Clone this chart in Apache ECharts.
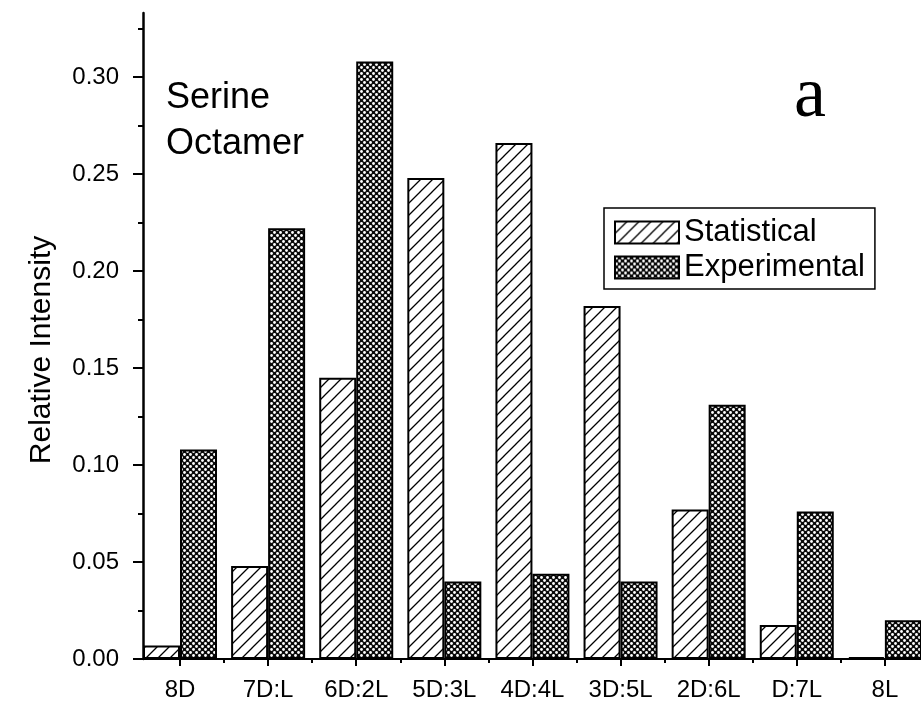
<!DOCTYPE html>
<html>
<head>
<meta charset="utf-8">
<script src="https://cdn.jsdelivr.net/npm/echarts@6/dist/echarts.min.js"></script>
<style>
html,body{margin:0;padding:0;background:#fff;}
#chart{width:921px;height:706px;}
</style>
</head>
<body>
<div id="chart"></div>
<script>
// ---- data ----
var categories = ['8D', '7D:L', '6D:2L', '5D:3L', '4D:4L', '3D:5L', '2D:6L', 'D:7L', '8L'];
var statistical = [0.007, 0.048, 0.145, 0.248, 0.266, 0.182, 0.077, 0.0175, 0.001];
var experimental = [0.108, 0.222, 0.308, 0.040, 0.044, 0.040, 0.131, 0.076, 0.020];
var yMajorTicks = [0, 0.05, 0.10, 0.15, 0.20, 0.25, 0.30];
var yMinorTicks = [0.025, 0.075, 0.125, 0.175, 0.225, 0.275, 0.325];
var xPositions = [1, 2, 3, 4, 5, 6, 7, 8, 9];
var xMinorTicks = [1.5, 2.5, 3.5, 4.5, 5.5, 6.5, 7.5, 8.5];

// ---- patterns ----
function hatchPattern() {
  var s = 12, c = document.createElement('canvas');
  c.width = s; c.height = s;
  var g = c.getContext('2d');
  g.fillStyle = '#fff'; g.fillRect(0, 0, s, s);
  g.strokeStyle = '#000'; g.lineWidth = 1.3;
  g.beginPath();
  g.moveTo(-2, s + 2); g.lineTo(s + 2, -2);
  g.moveTo(-2, 2); g.lineTo(2, -2);
  g.moveTo(s - 2, s + 2); g.lineTo(s + 2, s - 2);
  g.stroke();
  return c;
}
function dotPattern() {
  var s = 6, c = document.createElement('canvas');
  c.width = s; c.height = s;
  var g = c.getContext('2d');
  g.fillStyle = '#0a0a0a'; g.fillRect(0, 0, s, s);
  g.fillStyle = '#fff';
  g.beginPath(); g.arc(1.5, 1.5, 1.4, 0, Math.PI * 2); g.fill();
  g.beginPath(); g.arc(4.5, 4.5, 1.4, 0, Math.PI * 2); g.fill();
  return c;
}

function pairs(vals) {
  return vals.map(function (v, i) { return [xPositions[i], v]; });
}

var chart = echarts.init(document.getElementById('chart'), null, {renderer: 'canvas'});
var font = 'Liberation Sans, Arial, sans-serif';
var option = {
  animation: false,
  backgroundColor: '#fff',
  textStyle: {fontFamily: font},
  grid: {left: 143, right: 0, top: 13, bottom: 47, containLabel: false, outerBoundsMode: 'none'},
  legend: {
    orient: 'vertical',
    left: 604, top: 208,
    icon: 'rect',
    itemWidth: 64, itemHeight: 22, itemGap: 4,
    padding: [9, 10, 6, 10],
    borderColor: '#000', borderWidth: 1.5,
    textStyle: {fontSize: 31, color: '#000', fontFamily: font},
    data: ['Statistical', 'Experimental']
  },
  xAxis: [{
    type: 'value', min: 0.58, max: 9.41,
    axisLine: {show: true, onZero: false, lineStyle: {color: '#000', width: 2}},
    axisTick: {show: true, customValues: xPositions, length: 7, lineStyle: {color: '#000', width: 2}},
    axisLabel: {customValues: xPositions, margin: 19, fontSize: 24, color: '#000', fontFamily: font,
      formatter: function (v) { return categories[Math.round(v) - 1] || ''; }},
    splitLine: {show: false}
  }, {
    type: 'value', min: 0.58, max: 9.41, position: 'bottom',
    axisLine: {show: false},
    axisTick: {show: true, customValues: xMinorTicks, length: 4, lineStyle: {color: '#000', width: 2}},
    axisLabel: {show: false},
    splitLine: {show: false}
  }],
  yAxis: [{
    type: 'value', min: 0, max: 0.333,
    name: 'Relative Intensity', nameLocation: 'middle', nameGap: 86,
    nameTextStyle: {fontSize: 30, color: '#000', fontFamily: font, padding: [0, 28, 0, 0]},
    axisLine: {show: true, lineStyle: {color: '#000', width: 2.5}},
    axisTick: {show: true, customValues: yMajorTicks, length: 10, lineStyle: {color: '#000', width: 2}},
    axisLabel: {customValues: yMajorTicks, margin: 24, fontSize: 24, color: '#000', fontFamily: font,
      formatter: function (v) { return v.toFixed(2); }},
    splitLine: {show: false}
  }, {
    type: 'value', min: 0, max: 0.333, position: 'left',
    axisLine: {show: false},
    axisTick: {show: true, customValues: yMinorTicks, length: 5, lineStyle: {color: '#000', width: 2}},
    axisLabel: {show: false},
    splitLine: {show: false}
  }],
  series: [{
    name: 'Statistical', type: 'bar', xAxisIndex: 0, yAxisIndex: 0,
    barWidth: 37, barGap: '0%',
    itemStyle: {color: {image: hatchPattern(), repeat: 'repeat'}, borderColor: '#000', borderWidth: 2},
    data: pairs(statistical)
  }, {
    name: 'Experimental', type: 'bar', xAxisIndex: 0, yAxisIndex: 0,
    barWidth: 37, barGap: '0%',
    itemStyle: {color: {image: dotPattern(), repeat: 'repeat'}, borderColor: '#000', borderWidth: 2},
    data: pairs(experimental)
  }],
  graphic: [{
    type: 'text', left: 166, top: 75,
    style: {text: 'Serine\nOctamer', font: '36px ' + font, lineHeight: 46, fill: '#000'}
  }, {
    type: 'text', x: 794, y: 97,
    style: {text: 'a', font: '72px Liberation Serif, Times New Roman, serif', fill: '#000', verticalAlign: 'middle'}
  }]
};
chart.setOption(option);
</script>
</body>
</html>
